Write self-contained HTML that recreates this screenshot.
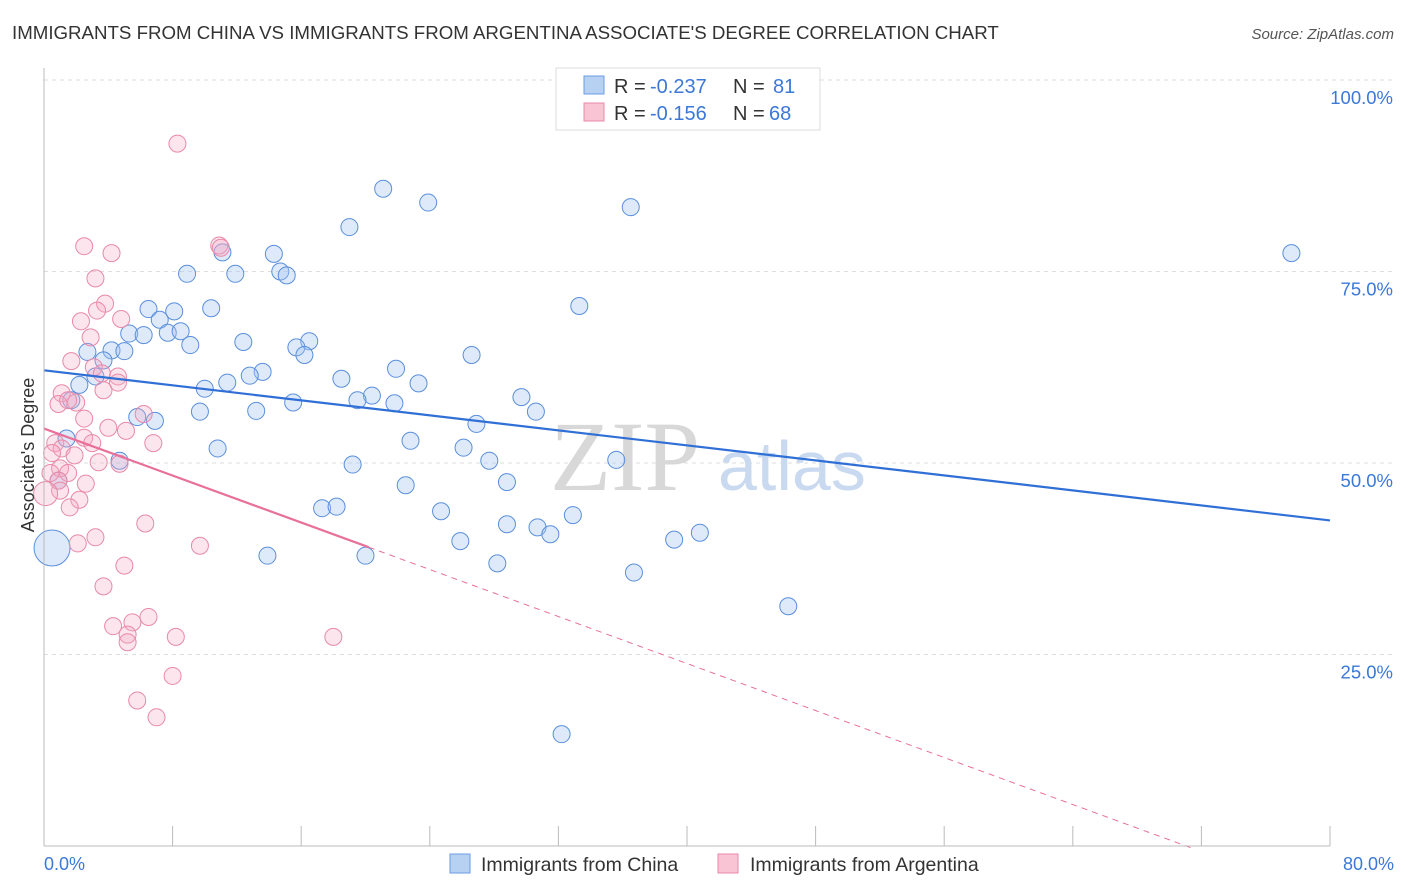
<!DOCTYPE html>
<html><head><meta charset="utf-8"><style>
body{margin:0;background:#fff;font-family:"Liberation Sans",sans-serif;}
svg{display:block}
</style></head><body>
<svg id="chart" width="1406" height="892">
<text x="12" y="39" font-size="18.7" fill="#333">IMMIGRANTS FROM CHINA VS IMMIGRANTS FROM ARGENTINA ASSOCIATE'S DEGREE CORRELATION CHART</text>
<text x="1394" y="39" font-size="15" fill="#555" font-style="italic" text-anchor="end">Source: ZipAtlas.com</text>
<g id="grid"></g>
<text x="700" y="490" font-size="100" fill="#d8d8d8" font-family="Liberation Serif,serif" text-anchor="end">ZIP</text>
<text x="718" y="490" font-size="70" fill="#c9d9f0">atlas</text>
<g id="pts"></g>
<g id="lines"></g>
<line x1="44" y1="68" x2="44" y2="846" stroke="#bbb"/>
<line x1="44" y1="846" x2="1330" y2="846" stroke="#bbb"/>
<g id="xticks"></g>
<g id="ylabels"></g>
<text x="34" y="455" font-size="18" fill="#333" text-anchor="middle" transform="rotate(-90 34 455)">Associate's Degree</text>
<text x="44" y="870" font-size="18" fill="#3b78d8">0.0%</text>
<text x="1394" y="870" font-size="18" fill="#3b78d8" text-anchor="end">80.0%</text>
<g>
<rect x="556" y="68" width="264" height="62" fill="#fff" stroke="#ddd"/>
<rect x="584" y="76" width="20" height="18" fill="#b7d1f3" stroke="#6a9be0"/>
<rect x="584" y="103" width="20" height="18" fill="#f9c5d5" stroke="#e889a8"/>
<text x="614" y="93" font-size="20" fill="#333">R = <tspan x="650" fill="#3b78d8">-0.237</tspan><tspan x="733">N = </tspan><tspan x="773" fill="#3b78d8">81</tspan></text>
<text x="614" y="120" font-size="20" fill="#333">R = <tspan x="650" fill="#3b78d8">-0.156</tspan><tspan x="733">N = </tspan><tspan x="769" fill="#3b78d8">68</tspan></text>
</g>
<g>
<rect x="450" y="854" width="20" height="19" fill="#b7d1f3" stroke="#6a9be0"/>
<text x="481" y="871" font-size="19.5" fill="#333">Immigrants from China</text>
<rect x="718" y="854" width="20" height="19" fill="#f9c5d5" stroke="#e889a8"/>
<text x="750" y="871" font-size="19.5" fill="#333">Immigrants from Argentina</text>
</g>
</svg>
<script>
const yTicks=[25,50,75,100];
const xTickCount=10;
const chinaX=[21.1,23.9,36.5,19.0,77.6,14.3,11.1,14.7,15.1,8.9,11.9,33.3,6.5,8.1,10.4,7.2,5.3,6.2,7.7,8.5,9.1,12.4,16.5,15.7,16.2,2.7,4.2,5.0,3.7,26.6,21.9,3.2,18.5,13.6,12.8,11.4,10.0,23.3,20.4,2.2,19.5,21.8,29.7,30.6,9.7,15.5,13.2,5.8,6.9,22.8,26.9,10.8,26.1,1.4,27.7,35.6,4.7,19.2,28.8,22.5,0.9,17.3,18.2,24.7,32.9,30.7,28.8,31.5,25.9,40.8,39.2,13.9,20.0,28.2,36.7,46.3,32.2,0.5,1.7];
const chinaY=[85.8,84.0,83.4,80.8,77.4,77.3,77.5,75.0,74.5,74.7,74.7,70.5,70.1,69.8,70.2,68.7,66.9,66.7,67.0,67.2,65.4,65.8,65.9,65.1,64.1,64.5,64.7,64.6,63.4,64.1,62.3,61.3,61.0,61.9,61.4,60.5,59.7,60.4,58.8,60.2,58.2,57.8,58.6,56.7,56.7,57.9,56.8,56.0,55.5,52.9,55.1,51.9,52.0,53.2,50.3,50.4,50.3,49.8,47.5,47.1,47.7,44.1,44.3,43.7,43.2,41.6,42.0,40.7,39.8,40.9,40.0,37.9,37.9,36.9,35.7,31.3,14.6,38.9,58.2];
const chinaR=[8.5,8.5,8.5,8.5,8.5,8.5,8.5,8.5,8.5,8.5,8.5,8.5,8.5,8.5,8.5,8.5,8.5,8.5,8.5,8.5,8.5,8.5,8.5,8.5,8.5,8.5,8.5,8.5,8.5,8.5,8.5,8.5,8.5,8.5,8.5,8.5,8.5,8.5,8.5,8.5,8.5,8.5,8.5,8.5,8.5,8.5,8.5,8.5,8.5,8.5,8.5,8.5,8.5,8.5,8.5,8.5,8.5,8.5,8.5,8.5,8.5,8.5,8.5,8.5,8.5,8.5,8.5,8.5,8.5,8.5,8.5,8.5,8.5,8.5,8.5,8.5,8.5,18,8.5];
const argX=[8.3,10.9,11.0,2.5,4.2,3.2,3.8,3.3,2.3,4.8,2.9,1.7,3.1,3.6,4.6,4.6,1.1,2.0,3.7,0.9,1.5,6.2,2.5,4.0,5.1,2.5,3.0,6.8,0.7,1.1,0.5,1.9,3.4,4.7,1.0,0.4,1.5,0.9,2.6,1.0,2.2,1.6,6.3,3.2,2.1,9.7,5.0,3.7,4.3,5.5,6.5,5.2,5.2,8.2,18.0,8.0,5.8,7.0,0.1];
const argY=[91.7,78.4,78.1,78.3,77.4,74.1,70.8,69.9,68.5,68.8,66.4,63.3,62.5,61.7,61.3,60.5,59.1,57.9,59.5,57.7,58.2,56.4,55.8,54.6,54.2,53.3,52.6,52.6,52.6,51.9,51.3,51.0,50.1,49.9,49.3,48.7,48.7,47.7,47.3,46.4,45.2,44.2,42.1,40.3,39.5,39.2,36.6,33.9,28.7,29.2,29.9,27.6,26.6,27.3,27.3,22.2,19.0,16.8,46.0];
const argR=[8.5,8.5,8.5,8.5,8.5,8.5,8.5,8.5,8.5,8.5,8.5,8.5,8.5,8.5,8.5,8.5,8.5,8.5,8.5,8.5,8.5,8.5,8.5,8.5,8.5,8.5,8.5,8.5,8.5,8.5,8.5,8.5,8.5,8.5,8.5,8.5,8.5,8.5,8.5,8.5,8.5,8.5,8.5,8.5,8.5,8.5,8.5,8.5,8.5,8.5,8.5,8.5,8.5,8.5,8.5,8.5,8.5,8.5,12];
const chinaTrend=[62.1,-0.245];
const argTrend=[54.5,-0.767];
const argSolidEnd=20.2, argDashEnd=71.5;
const X0=44,X1=1330,Y0=846,Y100=80;
const sx=v=>X0+(X1-X0)*v/80, sy=v=>Y0-(Y0-Y100)*v/100;
const NS="http://www.w3.org/2000/svg";
function mk(tag,attrs,parent){const e=document.createElementNS(NS,tag);for(const k in attrs)e.setAttribute(k,attrs[k]);document.getElementById(parent).appendChild(e);return e;}
yTicks.forEach(t=>{
 const g=mk('line',{x1:X0,x2:1394,y1:sy(t),y2:sy(t),stroke:'#ddd','stroke-dasharray':'4,4'},'grid');
 
 
 const l=mk('text',{x:1393,y:sy(t)+24,'font-size':18.5,fill:'#3b78d8','text-anchor':'end'},'ylabels');
 l.textContent=t.toFixed(1)+'%';
 
 
});
for(let i=1;i<=xTickCount;i++){
 const v=80*i/xTickCount;
 const t=mk('line',{x1:sx(v),x2:sx(v),y1:826,y2:846,stroke:'#bbb'},'xticks');
 
 
}
chinaX.forEach((x,i)=>{
 const c=mk('circle',{cx:sx(x),cy:sy(chinaY[i]),r:chinaR[i],fill:'rgba(160,195,240,0.35)',stroke:'#5a8fdc','stroke-width':1},'pts');
 
 
});
argX.forEach((x,i)=>{
 const c=mk('circle',{cx:sx(x),cy:sy(argY[i]),r:argR[i],fill:'rgba(245,170,195,0.3)',stroke:'#e889a8','stroke-width':1},'pts');
 
 
});
const f=(t,x)=>t[0]+t[1]*x;
let l1=mk('line',{x1:sx(0),y1:sy(f(chinaTrend,0)),x2:sx(80),y2:sy(f(chinaTrend,80)),stroke:'#2f6fd6','stroke-width':2.2},'lines');


let l2=mk('line',{x1:sx(0),y1:sy(f(argTrend,0)),x2:sx(argSolidEnd),y2:sy(f(argTrend,argSolidEnd)),stroke:'#e8709a','stroke-width':2.2},'lines');


let l3=mk('line',{x1:sx(argSolidEnd),y1:sy(f(argTrend,argSolidEnd)),x2:sx(argDashEnd),y2:sy(f(argTrend,argDashEnd)),stroke:'#e8709a','stroke-width':1,'stroke-dasharray':'6,5'},'lines');


</script>
</body></html>
